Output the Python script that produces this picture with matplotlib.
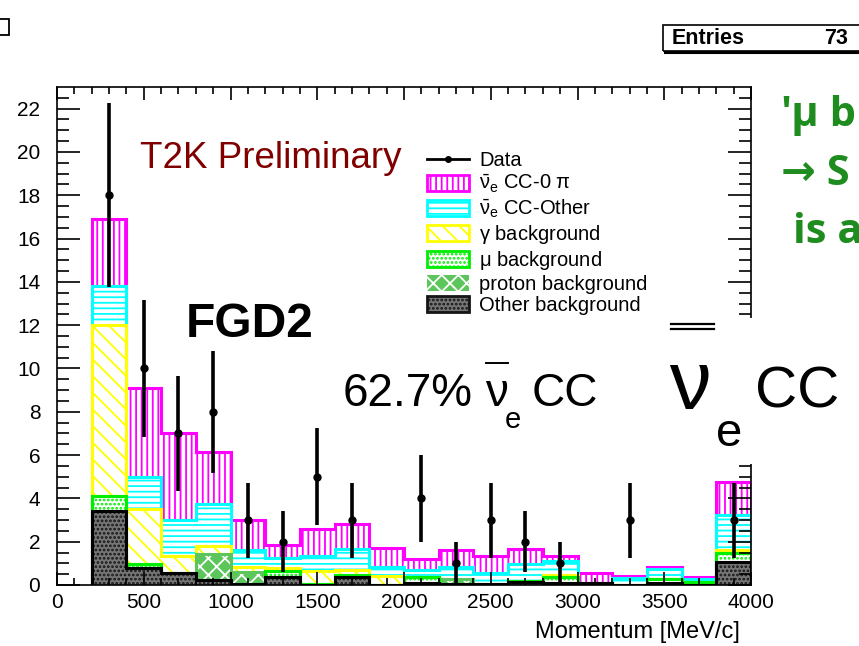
import numpy as np
import matplotlib.pyplot as plt
from matplotlib.lines import Line2D
from matplotlib.patches import Patch, Rectangle

plt.rcParams['font.family'] = ['Liberation Sans', 'DejaVu Sans']
plt.rcParams['mathtext.fontset'] = 'custom'
plt.rcParams['mathtext.rm'] = 'Liberation Sans'
plt.rcParams['mathtext.it'] = 'Liberation Sans'
plt.rcParams['mathtext.bf'] = 'Liberation Sans:bold'
plt.rcParams['hatch.linewidth'] = 1.3

# bin edges in MeV/c
edges = [200, 400, 600, 800, 1000, 1200, 1400, 1600, 1800, 2000, 2200,
         2400, 2600, 2800, 3000, 3200, 3400, 3600, 3800, 4000]

# stacked MC components, bottom to top
other = [3.4, 0.8, 0.55, 0.25, 0.05, 0.37, 0.0, 0.35, 0.0, 0.1,
         0.05, 0.05, 0.15, 0.1, 0.1, 0.0, 0.1, 0.0, 1.08]
mu_bkg = [0.7, 0.15, 0.0, 0.0, 0.0, 0.28, 0.05, 0.1, 0.0, 0.25,
          0.0, 0.0, 0.05, 0.25, 0.0, 0.0, 0.2, 0.12, 0.4]
proton = [0.0, 0.0, 0.0, 1.2, 0.55, 0.0, 0.0, 0.0, 0.0, 0.0,
          0.25, 0.0, 0.0, 0.0, 0.0, 0.0, 0.0, 0.0, 0.0]
gamma = [7.9, 2.55, 0.8, 0.35, 0.25, 0.15, 0.6, 0.25, 0.4, 0.0,
         0.0, 0.0, 0.0, 0.1, 0.0, 0.0, 0.0, 0.0, 0.14]
cc_other = [1.8, 1.5, 1.65, 1.95, 0.77, 0.45, 0.7, 0.95, 0.45, 0.35,
            0.53, 0.52, 0.77, 0.67, 0.0, 0.33, 0.45, 0.18, 1.62]
cc0pi = [3.1, 4.1, 4.0, 2.4, 1.38, 0.6, 1.25, 1.15, 0.85, 0.5,
         0.77, 0.78, 0.68, 0.23, 0.47, 0.09, 0.08, 0.08, 1.54]

# data counts per bin
data = [18, 10, 7, 8, 3, 2, 5, 3, 0, 4, 1, 3, 2, 1, 0, 3, 0, 0, 3]

comp_names = ['other', 'mu', 'proton', 'gamma', 'cc_other', 'cc0pi']
legend_order = ['cc0pi', 'cc_other', 'gamma', 'mu', 'proton', 'other']
labels = ['Data', r'$\bar{\nu}_{e}$ CC-0 $\pi$', r'$\bar{\nu}_{e}$ CC-Other',
          r'$\gamma$ background', r'$\mu$ background',
          'proton background', 'Other background']

# (face, hatch colour, hatch, outline)
styles = {
    'other': ('#767676', '#151515', '....', 'black'),
    'mu': ('white', '#00ee00', '....', '#00ee00'),
    'proton': ('#5cc65c', 'white', 'xx', '#5cc65c'),
    'gamma': ('white', '#ffff00', '\\\\', '#ffff00'),
    'cc_other': ('white', '#00ffff', '---', '#00ffff'),
    'cc0pi': ('white', '#ff00ff', '|||', '#ff00ff'),
}

W, H = 859, 646


def fx(px):
    return px / W


def fy(py):
    return 1 - py / H


fig = plt.figure(figsize=(W / 100, H / 100), dpi=100)
ax = fig.add_axes([fx(57), fy(585), fx(751) - fx(57), fy(87) - fy(585)])

edges = np.array(edges, dtype=float)
comps = np.array([other, mu_bkg, proton, gamma, cc_other, cc0pi])
cum = np.cumsum(comps, axis=0)

for level, name in reversed(list(zip(cum, comp_names))):
    face, hcol, hatch, line = styles[name]
    ax.bar(edges[:-1], level, width=np.diff(edges), align='edge', color=face,
           edgecolor=hcol, hatch=hatch, linewidth=0)
    ax.stairs(level, edges, baseline=0, color=line, linewidth=2.2)

data = np.array(data, dtype=float)
centers = (edges[:-1] + edges[1:]) / 2
m = data > 0
ax.errorbar(centers[m], data[m], yerr=np.sqrt(data[m]), fmt='o', color='black',
            ms=5, elinewidth=2.6, capsize=0, zorder=5)

ax.set_xlim(0, 4000)
ax.set_ylim(0, 23)
ax.set_xticks(np.arange(0, 4001, 500))
ax.set_xticks(np.arange(0, 4001, 100), minor=True)
ax.set_yticks(np.arange(0, 23, 2))
ax.set_yticks(np.arange(0, 23, 0.5), minor=True)
ax.tick_params(which='both', direction='in', top=True, right=True, width=1.2,
               labelsize=15)
ax.tick_params(axis='x', which='major', length=9.5, pad=6)
ax.tick_params(axis='x', which='minor', length=5)
ax.tick_params(axis='y', which='major', length=16.5, pad=12)
ax.tick_params(axis='y', which='minor', length=8.5)
for s in ax.spines.values():
    s.set_linewidth(1.2)

fig.text(fx(740), fy(638), 'Momentum [MeV/c]', ha='right', va='baseline',
         fontsize=17)

handles = [Line2D([0], [0], color='black', lw=2, marker='o', ms=4)]
for name in legend_order:
    face, hcol, hatch, line = styles[name]
    if hcol == 'white':
        handles.append(Patch(facecolor=face, edgecolor=hcol, hatch=hatch,
                             linewidth=0))
    else:
        handles.append(Patch(facecolor=face, edgecolor=hcol, hatch=hatch,
                             linewidth=2))
fig.legend(handles, labels, loc='upper left',
           bbox_to_anchor=(fx(427), fy(151)), frameon=False, fontsize=14.5,
           handlelength=2.1, handleheight=0.85, labelspacing=0.14,
           handletextpad=0.5, borderpad=0, borderaxespad=0)

fig.text(fx(140), fy(168), 'T2K Preliminary', color='#800000', fontsize=26.5,
         va='baseline')
fig.text(fx(186), fy(337), 'FGD2', fontsize=34.5, fontweight='bold',
         va='baseline')

# 62.7% anti-nu_e CC
fig.text(fx(343), fy(406), '62.7%', fontsize=33, va='baseline')
fig.text(fx(485), fy(406), '\u03bd', fontsize=33, va='baseline')
fig.add_artist(Line2D([fx(486), fx(508)], [fy(363), fy(363)],
                      transform=fig.transFigure, color='black', lw=1.4))
fig.text(fx(505), fy(428), 'e', fontsize=21, va='baseline')
fig.text(fx(532), fy(406), 'CC', fontsize=33, va='baseline')

# white box with the big label over the right edge of the frame
fig.add_artist(Rectangle((fx(664), fy(464)), fx(200), fy(318) - fy(464),
                         transform=fig.transFigure, facecolor='white',
                         edgecolor='none', zorder=4))
fig.text(fx(669), fy(409), '\u03bd', fontsize=60, va='baseline', zorder=5)
fig.text(fx(716), fy(446), 'e', fontsize=34, va='baseline', zorder=5)
fig.text(fx(755), fy(407), 'CC', fontsize=42, va='baseline', zorder=5)
for yb in (324, 329):
    fig.add_artist(Line2D([fx(671), fx(714)], [fy(yb), fy(yb)],
                          transform=fig.transFigure, color='black', lw=1.6,
                          zorder=5))

# stats box, cut by the figure edge
fig.add_artist(Rectangle((fx(663), fy(51)), fx(220), fy(25) - fy(51),
                         transform=fig.transFigure, fill=False,
                         edgecolor='black', lw=1.2))
fig.add_artist(Line2D([fx(665), fx(859)], [fy(52), fy(52)],
                      transform=fig.transFigure, color='black', lw=2.2))
fig.text(fx(672), fy(38), 'Entries', fontsize=15.5, fontweight='bold',
         va='center')
fig.text(fx(848), fy(38), '73', fontsize=15.5, fontweight='bold',
         va='center', ha='right')

# green comment, cut by the figure edge
green = '#1e8c1e'
gfam = ['Open Sans', 'DejaVu Sans']
fig.text(fx(781), fy(126), "'\u03bc b", color=green, fontsize=30,
         fontweight='bold', family=gfam, va='baseline')
fig.text(fx(781), fy(185), '\u2192 S', color=green, fontsize=30,
         fontweight='bold', family=gfam, va='baseline')
fig.text(fx(793), fy(243), 'is a', color=green, fontsize=30,
         fontweight='bold', family=gfam, va='baseline')

# missing glyph box in the corner
fig.add_artist(Rectangle((fx(-1), fy(35)), fx(10), fy(19) - fy(35),
                         transform=fig.transFigure, fill=False,
                         edgecolor='black', lw=1.3))

fig.savefig('out.png', dpi=100)
